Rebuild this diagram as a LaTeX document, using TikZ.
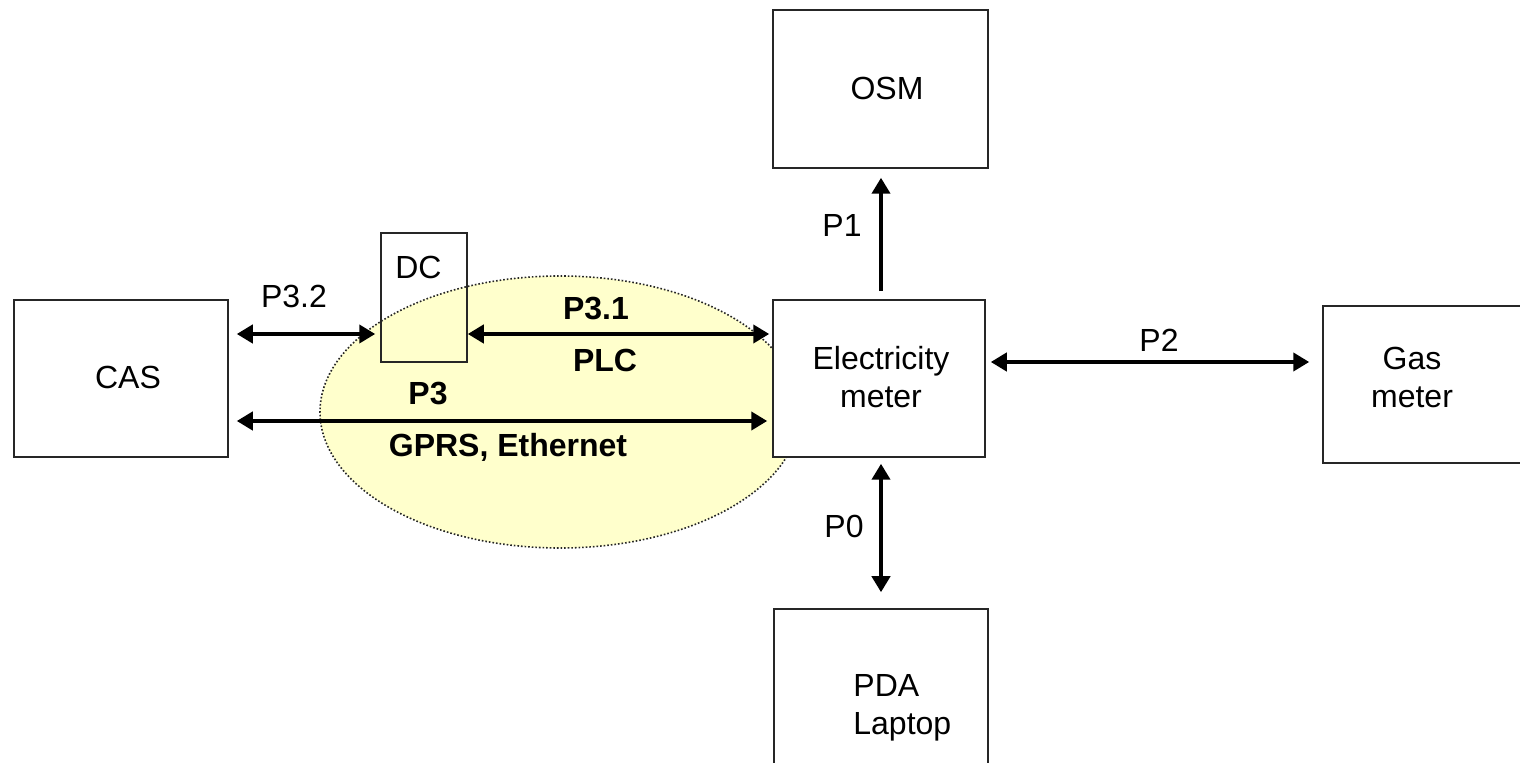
\documentclass[tikz,border=0pt]{standalone}
\usepackage{fontspec}
\setmainfont{Liberation Sans}
\usetikzlibrary{arrows.meta,shapes.geometric}
\definecolor{elfill}{RGB}{255,255,204}
\begin{document}
\begin{tikzpicture}[x=0.5pt,y=-0.5pt,
  box/.style={draw=black!85, line width=0.75pt, inner sep=0pt},
  txt/.style={inner sep=0pt, font=\fontsize{16}{19}\selectfont},
  lbl/.style={txt, anchor=base},
  bl/.style={lbl, font=\fontsize{16}{19}\selectfont\bfseries},
  arr/.style={line width=2pt, {Triangle[length=8pt,width=9pt]}-{Triangle[length=8pt,width=9pt]}},
  uarr/.style={line width=2pt, -{Triangle[length=8pt,width=9pt]}},
]
\clip (0,0) rectangle (1520,763);
\fill[white] (0,0) rectangle (1520,763);
% ellipse region
\node[ellipse, draw=black!85, line width=0.8pt, densely dotted, fill=elfill, inner sep=0pt,
      minimum width=240pt, minimum height=136pt] (cloud) at (560,412) {};
% boxes
\node[box, minimum width=107pt, minimum height=78.5pt] (cas) at (121,378.5) {};
\node[box, minimum width=43pt, minimum height=64.5pt] (dc) at (424,297.5) {};
\node[box, minimum width=107.5pt, minimum height=79pt] (osm) at (880.5,89) {};
\node[box, fill=white, minimum width=106pt, minimum height=78.5pt] (elec) at (879,378.5) {};
\node[box, minimum width=111pt, minimum height=78.5pt] (gas) at (1434,384.5) {};
\node[box, minimum width=107pt, minimum height=90.5pt] (pda) at (881,699.5) {};
% box texts
\node[lbl] (tcas) at (128,389) {CAS};
\node[lbl] (tdc) at (418.5,279) {DC};
\node[lbl] (tosm) at (887,100) {OSM};
\node[txt, align=center] (telec) at (881,377.5) {Electricity\\meter};
\node[txt, align=center] (tgas) at (1412,377) {Gas\\meter};
\node[txt, align=left, anchor=west] (tpda) at (853,708) {PDA\\Laptop};
% connectors
\draw[arr, shorten <=4pt, shorten >=2.5pt] (cas.east |- 0,334) -- (dc.west |- 0,334);
\draw[arr, shorten >=1.5pt] (dc.east |- 0,334) -- (elec.west |- 0,334);
\draw[arr, shorten <=4pt, shorten >=2.5pt] (cas.east |- 0,421) -- (elec.west |- 0,421);
\draw[arr, shorten <=2.5pt, shorten >=6.5pt] (elec.east |- 0,362) -- (gas.west |- 0,362);
\draw[uarr, shorten <=4pt, shorten >=4.5pt] ([xshift=1pt]elec.north) -- ([xshift=0.25pt]osm.south);
\draw[arr, shorten <=3pt, shorten >=8pt] ([xshift=1pt]elec.south) -- (pda.north);
% connector labels
\node[lbl] (lp32) at (294,308) {P3.2};
\node[bl] (lp31) at (596,320) {P3.1};
\node[bl] (lplc) at (605,372) {PLC};
\node[bl] (lp3) at (428,405) {P3};
\node[bl] (lgprs) at (508,457) {GPRS, Ethernet};
\node[lbl] (lp2) at (1159,352) {P2};
\node[lbl] (lp1) at (842,237) {P1};
\node[lbl] (lp0) at (844,538) {P0};
\end{tikzpicture}
\end{document}
